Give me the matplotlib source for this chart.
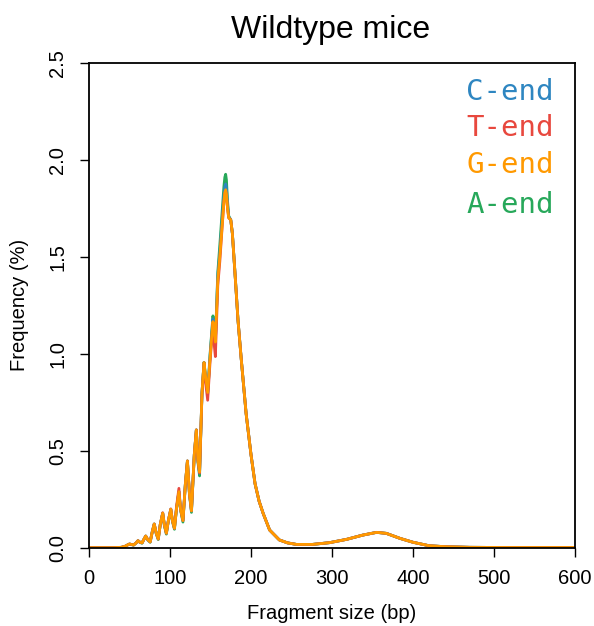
import matplotlib
matplotlib.use("Agg")
import matplotlib.pyplot as plt

# fragment size (bp)
size_bp = [0, 30, 40, 45, 48, 50, 53, 55, 58, 60.5, 63, 65.5, 68, 70, 72.5, 75.5,
           78, 80.5, 83, 85.5, 88, 91, 93, 95.5, 98, 101, 103, 105.5, 108, 111,
           113, 116, 119, 121.5, 124, 126.5, 130, 132.5, 134.5, 136.5, 139.5, 142,
           144, 146.5, 149.5, 153, 154.5, 156, 159, 161.5, 164, 166.5, 167.7, 168.7, 169.7,
           171, 172.5, 175, 177, 180, 184, 188, 194, 200, 205, 210, 215, 223, 235, 245,
           256, 276, 297, 318, 338, 355, 367, 384, 400, 420, 441, 470, 520, 600]

g_end = [0, 0, 0.002, 0.008, 0.015, 0.019, 0.016, 0.014, 0.024, 0.036, 0.028, 0.025, 0.045, 0.060, 0.042, 0.030,
         0.080, 0.122, 0.075, 0.045, 0.120, 0.178, 0.120, 0.075, 0.140, 0.198, 0.140, 0.100, 0.200, 0.289,
         0.200, 0.140, 0.330, 0.447, 0.280, 0.190, 0.480, 0.607, 0.450, 0.390, 0.800, 0.955,
         0.880, 0.800, 0.980, 1.165, 1.120, 1.060, 1.380, 1.500, 1.640, 1.780, 1.830, 1.845, 1.820,
         1.750, 1.700, 1.690, 1.620, 1.430, 1.170, 0.970, 0.690, 0.480, 0.330, 0.240, 0.177, 0.091, 0.040, 0.025,
         0.017, 0.017, 0.026, 0.043, 0.065, 0.079, 0.074, 0.048, 0.028, 0.010, 0.005, 0.002, 0.001, 0.001]

t_end = [0, 0, 0.002, 0.008, 0.015, 0.019, 0.016, 0.014, 0.024, 0.036, 0.028, 0.025, 0.045, 0.060, 0.042, 0.030,
         0.080, 0.122, 0.075, 0.045, 0.120, 0.180, 0.120, 0.075, 0.140, 0.200, 0.140, 0.100, 0.210, 0.306,
         0.200, 0.140, 0.330, 0.447, 0.280, 0.190, 0.480, 0.607, 0.450, 0.385, 0.790, 0.950,
         0.850, 0.760, 0.960, 1.160, 1.050, 0.985, 1.350, 1.475, 1.630, 1.780, 1.825, 1.840, 1.815,
         1.750, 1.700, 1.690, 1.620, 1.430, 1.170, 0.970, 0.690, 0.480, 0.330, 0.240, 0.177, 0.091, 0.040, 0.025,
         0.017, 0.017, 0.026, 0.043, 0.065, 0.079, 0.074, 0.048, 0.028, 0.010, 0.005, 0.002, 0.001, 0.001]

c_end = [0, 0, 0.002, 0.008, 0.015, 0.019, 0.016, 0.014, 0.024, 0.036, 0.028, 0.025, 0.045, 0.060, 0.042, 0.030,
         0.080, 0.122, 0.075, 0.045, 0.120, 0.178, 0.120, 0.075, 0.140, 0.198, 0.140, 0.100, 0.200, 0.290,
         0.200, 0.140, 0.330, 0.447, 0.280, 0.190, 0.480, 0.607, 0.450, 0.385, 0.800, 0.955,
         0.870, 0.790, 0.990, 1.180, 1.120, 1.060, 1.400, 1.520, 1.670, 1.810, 1.860, 1.875, 1.850,
         1.770, 1.705, 1.690, 1.620, 1.430, 1.170, 0.970, 0.690, 0.480, 0.330, 0.240, 0.177, 0.091, 0.040, 0.025,
         0.017, 0.017, 0.026, 0.043, 0.065, 0.079, 0.074, 0.048, 0.028, 0.010, 0.005, 0.002, 0.001, 0.001]

a_end = [0, 0, 0.002, 0.008, 0.015, 0.019, 0.015, 0.013, 0.024, 0.036, 0.027, 0.023, 0.045, 0.060, 0.040, 0.028,
         0.080, 0.122, 0.072, 0.042, 0.120, 0.178, 0.115, 0.070, 0.140, 0.198, 0.135, 0.095, 0.200, 0.289,
         0.195, 0.132, 0.330, 0.447, 0.275, 0.182, 0.480, 0.607, 0.440, 0.370, 0.800, 0.955,
         0.880, 0.800, 1.000, 1.195, 1.150, 1.060, 1.420, 1.560, 1.710, 1.860, 1.910, 1.925, 1.895,
         1.790, 1.710, 1.690, 1.620, 1.430, 1.170, 0.970, 0.690, 0.480, 0.330, 0.240, 0.177, 0.091, 0.040, 0.025,
         0.017, 0.017, 0.026, 0.043, 0.065, 0.079, 0.074, 0.048, 0.028, 0.010, 0.005, 0.002, 0.001, 0.001]

labels = ["C-end", "T-end", "G-end", "A-end"]
colors = ["#2E86C1", "#E8483E", "#FF9900", "#27A85A"]
series = [c_end, t_end, g_end, a_end]

plt.rcParams["font.family"] = ["Liberation Sans", "DejaVu Sans"]

fig = plt.figure(figsize=(5.94, 6.26), dpi=100)
ax = fig.add_axes([89 / 594, 1 - 547.7 / 626, 486 / 594, 485 / 626])

# green underneath, orange on top
for k in [3, 0, 1, 2]:
    ax.plot(size_bp, series[k], color=colors[k], lw=2.0, solid_joinstyle="round")

ax.set_xlim(0, 600)
ax.set_ylim(0, 2.5)
ax.set_xticks([0, 100, 200, 300, 400, 500, 600])
ax.set_yticks([0, 0.5, 1.0, 1.5, 2.0, 2.5])
ax.set_yticklabels(["0.0", "0.5", "1.0", "1.5", "2.0", "2.5"], rotation=90, va="center")
ax.tick_params(labelsize=14.5, length=6.5, width=1, pad=9)
for sp in ax.spines.values():
    sp.set_linewidth(1.3)

ax.set_xlabel("Fragment size (bp)", fontsize=14.5, labelpad=11)
ax.set_ylabel("Frequency (%)", fontsize=14.5, labelpad=14)
fig.text(331 / 594, 1 - 38 / 626, "Wildtype mice", ha="center", va="baseline", fontsize=23)

legend_y = [2.349, 2.163, 1.973, 1.767]
for lab, col, yy in zip(labels, colors, legend_y):
    ax.text(573.5, yy, lab, color=col, ha="right", va="center",
            fontsize=21, family="DejaVu Sans Mono")

fig.savefig("out.png", dpi=100)
